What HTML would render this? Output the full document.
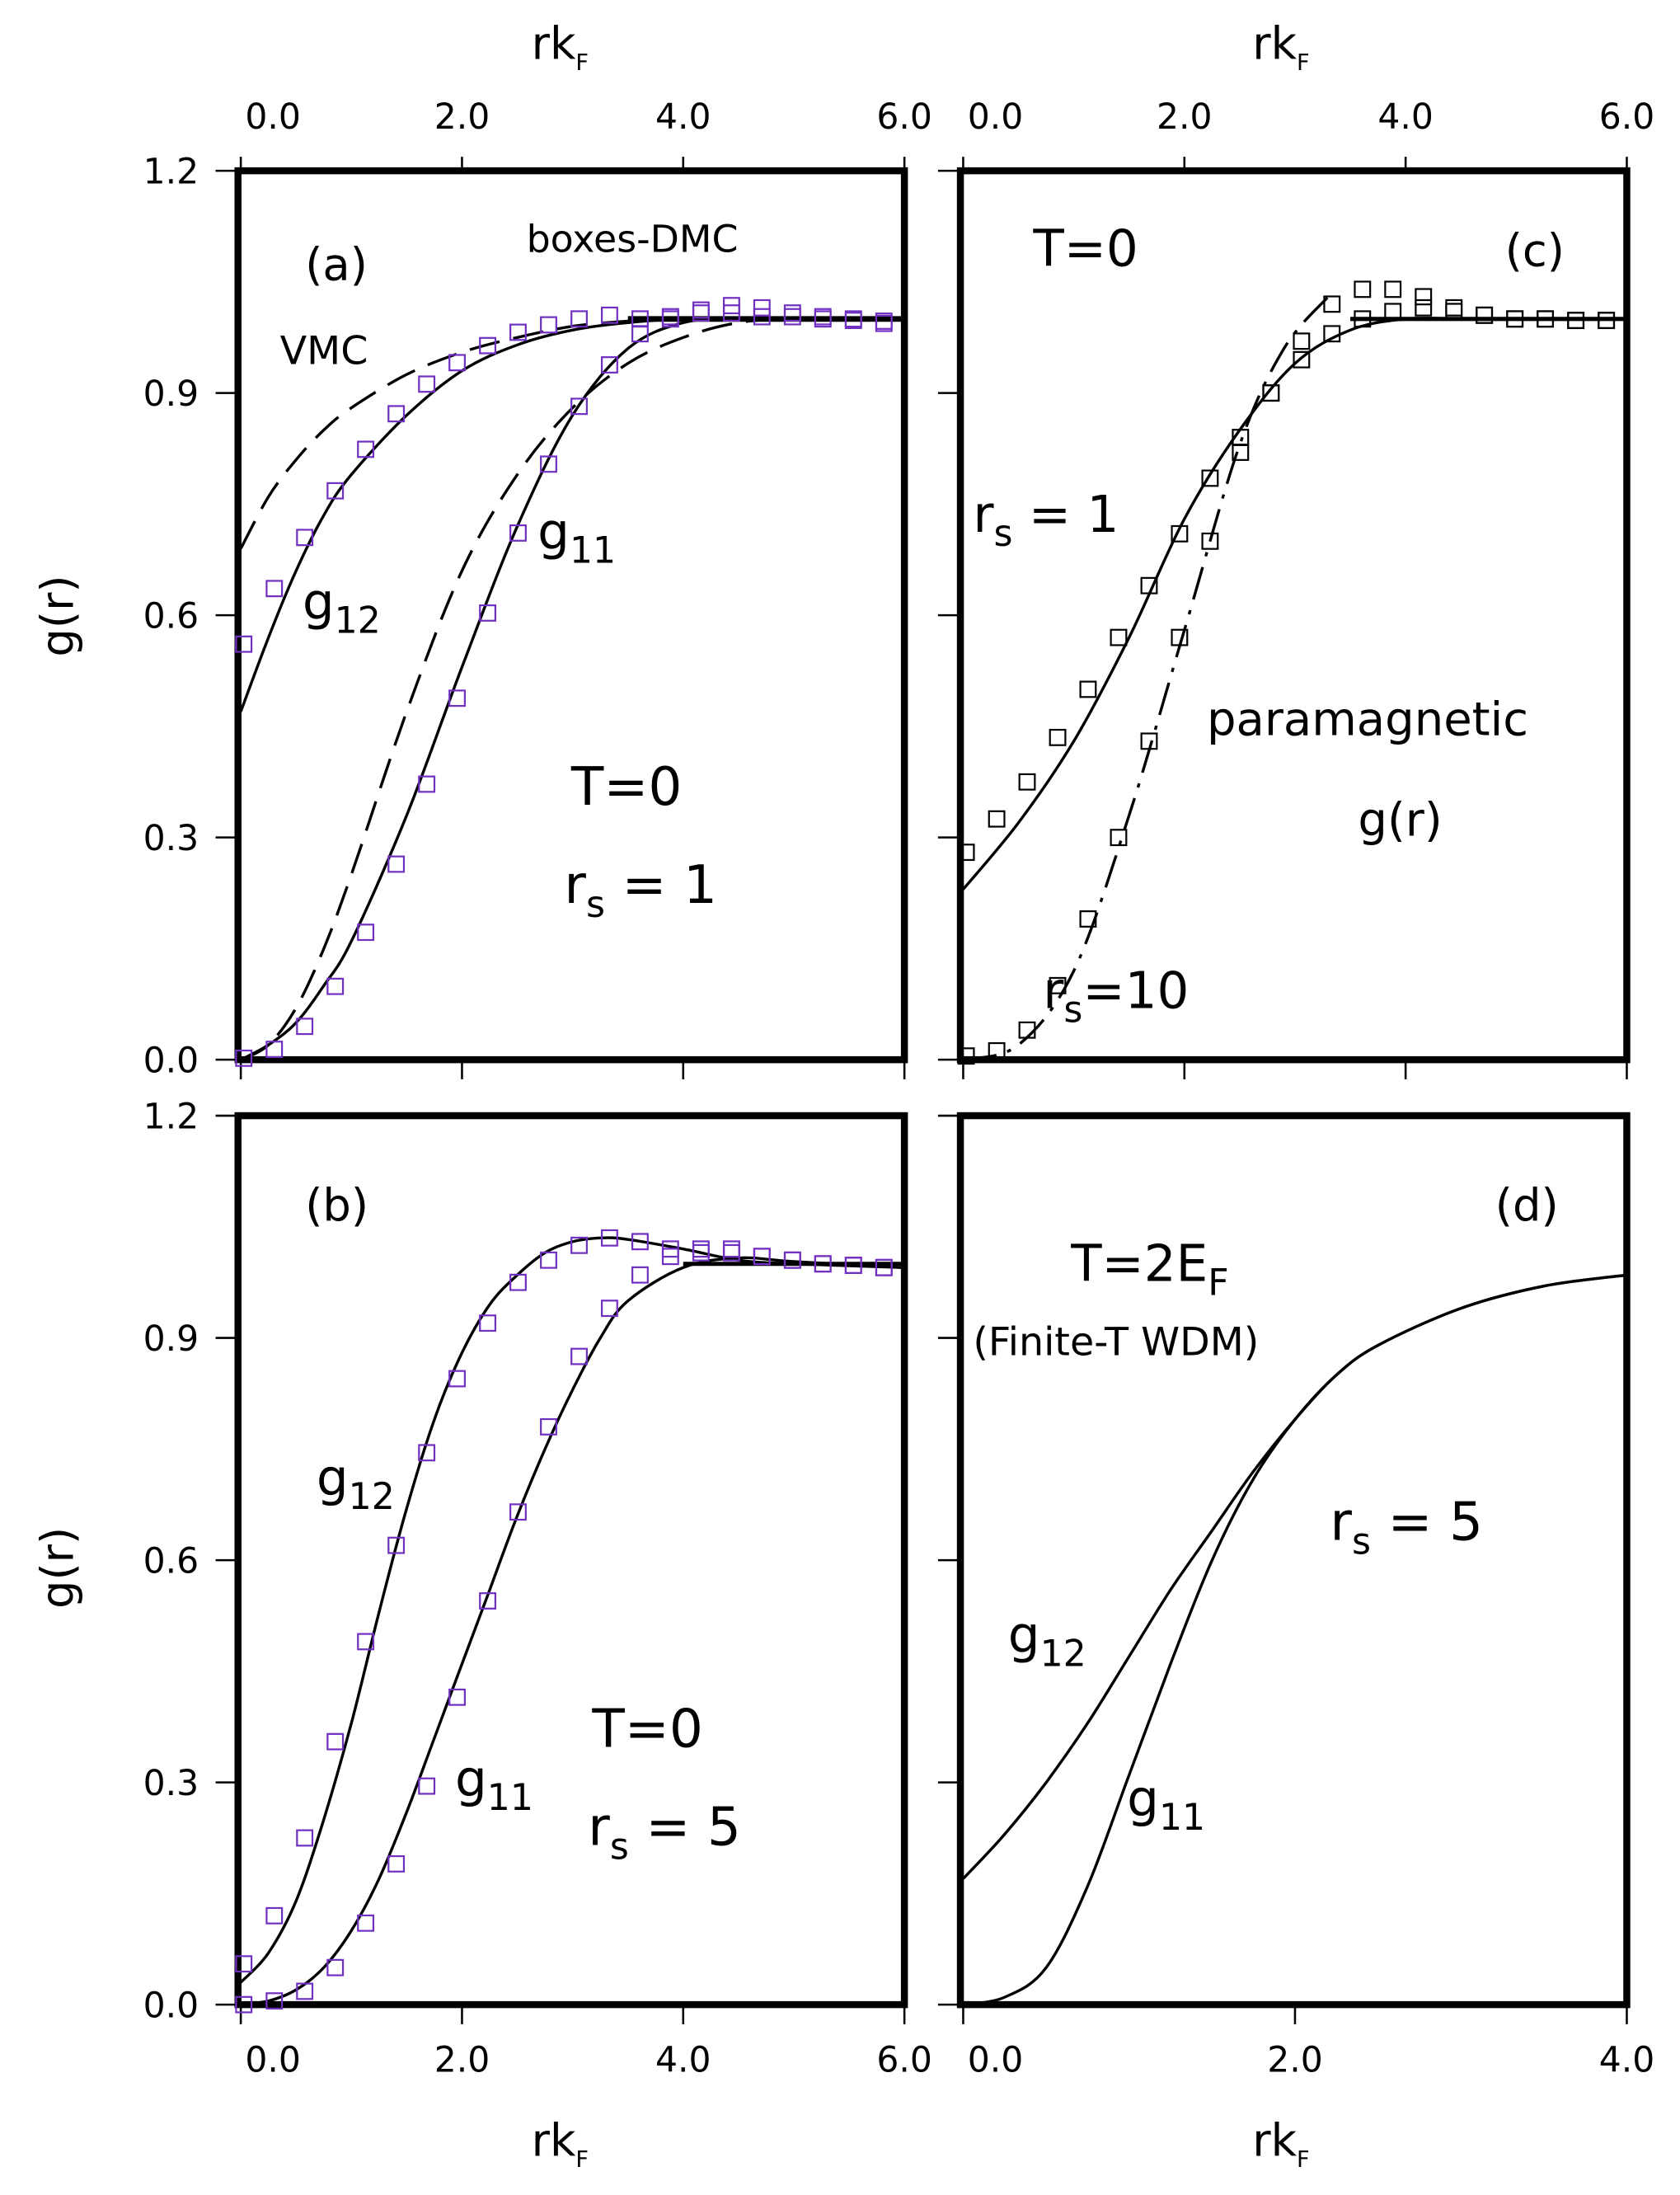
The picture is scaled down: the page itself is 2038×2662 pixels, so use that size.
<!DOCTYPE html>
<html><head><meta charset="utf-8"><style>
html,body{margin:0;padding:0;background:#fff;}
svg{display:block;}
text{font-family:"DejaVu Sans","Liberation Sans",sans-serif;fill:#000;}
</style></head><body>
<svg id="chart" width="2038" height="2662" viewBox="0 0 1200 1568" preserveAspectRatio="none" xmlns="http://www.w3.org/2000/svg"></svg>
<script>
// ---- data ----
const sqX = [0.027,0.303,0.578,0.854,1.129,1.405,1.681,1.956,2.232,2.507,2.783,3.059,3.334,3.610,3.885,4.161,4.437,4.712,4.988,5.263,5.539,5.815];
const aSqG12 = [0.561,0.636,0.705,0.768,0.824,0.872,0.912,0.941,0.964,0.982,0.992,1.0,1.005,1.0,1.0,1.012,1.018,1.015,1.008,1.003,1.0,0.997];
const aSqG11 = [0.002,0.014,0.045,0.099,0.172,0.264,0.372,0.488,0.603,0.711,0.804,0.882,0.938,0.98,1.003,1.008,1.008,1.003,1.003,1.0,0.998,0.994];
const aLineX = [0,0.25,0.5,0.75,1,1.5,2,2.5,3,3.5,4,4.5,5,6];
const aDmcG12 = [0.47,0.57,0.66,0.735,0.79,0.87,0.93,0.965,0.985,0.995,1.0,1.0,1.0,1.0];
const aDmcG11 = [0,0.02,0.05,0.1,0.16,0.33,0.53,0.72,0.87,0.96,0.995,1.0,1.0,1.0];
const aVmcG12 = [0.69,0.76,0.81,0.85,0.88,0.925,0.955,0.975,0.99,0.997,1.0,1.0,1.0,1.0];
const aVmcG11 = [0,0.02,0.07,0.15,0.25,0.47,0.66,0.79,0.88,0.94,0.975,0.995,1.0,1.0];
const bSqG12 = [0.055,0.12,0.225,0.355,0.49,0.62,0.745,0.845,0.92,0.975,1.005,1.025,1.035,1.03,1.02,1.02,1.015,1.01,1.005,1.0,0.998,0.995];
const bSqG11 = [0.0,0.005,0.018,0.05,0.11,0.19,0.295,0.415,0.545,0.665,0.78,0.875,0.94,0.985,1.01,1.015,1.02,1.01,1.005,1.0,0.998,0.995];
const bLineX = [0,0.25,0.5,0.75,1,1.25,1.5,1.75,2,2.25,2.5,2.75,3,3.25,3.5,4,4.5,5,6];
const bG12 = [0.03,0.07,0.14,0.25,0.38,0.53,0.67,0.79,0.88,0.945,0.985,1.015,1.03,1.035,1.033,1.02,1.005,1.0,0.995];
const bG11 = [0,0.005,0.02,0.05,0.1,0.17,0.26,0.36,0.46,0.56,0.66,0.75,0.83,0.90,0.95,0.995,1.008,1.003,0.995];
const cSqRs1 = [0.28,0.325,0.375,0.435,0.5,0.57,0.64,0.71,0.785,0.84,0.9,0.945,0.98,1.0,1.01,1.015,1.01,1.005,1.0,1.0,0.998,0.998];
const cSqRs10 = [0.005,0.012,0.04,0.1,0.19,0.3,0.43,0.57,0.7,0.82,0.9,0.97,1.02,1.04,1.04,1.03,1.015,1.005,1.0,1.0,0.998,0.998];
const cLineX = [0,0.5,1,1.5,2,2.5,3,3.5,4,4.5,5,6];
const cRs1 = [0.23,0.32,0.43,0.57,0.73,0.85,0.94,0.985,1.0,1.0,1.0,1.0];
const cRs10X = [0,0.5,1,1.5,2,2.5,2.9,3.3];
const cRs10 = [0,0.02,0.12,0.33,0.58,0.83,0.96,1.03];
const dLineX = [0,0.25,0.5,0.75,1,1.25,1.5,1.75,2,2.25,2.5,3,3.5,4];
const dG12 = [0.17,0.23,0.30,0.38,0.47,0.56,0.64,0.72,0.79,0.85,0.89,0.94,0.97,0.985];
const dG11 = [0,0.01,0.05,0.16,0.31,0.46,0.60,0.71,0.79,0.85,0.89,0.94,0.97,0.985];
const yTicks = [0,0.3,0.6,0.9,1.2];
const yTickLabels = ["0.0","0.3","0.6","0.9","1.2"];
const x6Ticks = [0,2,4,6];
const x6Labels = ["0.0","2.0","4.0","6.0"];
const x4Ticks = [0,2,4];
const x4Labels = ["0.0","2.0","4.0"];

// ---- drawing ----
const NS="http://www.w3.org/2000/svg";
const svg=document.getElementById('chart');
function mk(tag,attrs,parent){const e=document.createElementNS(NS,tag);for(const k in attrs)e.setAttribute(k,attrs[k]);(parent||svg).appendChild(e);return e;}
function panel(x0,x1,y0,y1,xmax){
  return {sx:v=>x0+(x1-x0)*v/xmax, sy:v=>y0-(y0-y1)*v/1.2, left:x0-2,right:x1,top:y1,bottom:y0};
}
function smooth(P){
  let d="M"+P[0][0]+","+P[0][1];
  for(let i=0;i<P.length-1;i++){
    const p0=P[i-1]||P[i],p1=P[i],p2=P[i+1],p3=P[i+2]||P[i+1];
    const c1=[p1[0]+(p2[0]-p0[0])/6,p1[1]+(p2[1]-p0[1])/6];
    const c2=[p2[0]-(p3[0]-p1[0])/6,p2[1]-(p3[1]-p1[1])/6];
    d+=" C"+c1[0].toFixed(1)+","+c1[1].toFixed(1)+" "+c2[0].toFixed(1)+","+c2[1].toFixed(1)+" "+p2[0].toFixed(1)+","+p2[1].toFixed(1);
  }
  return d;
}
function curve(p,xs,ys,name,dash,w){
  const P=xs.map((x,i)=>[p.sx(x),p.sy(ys[i])]);
  const e=mk('path',{d:smooth(P),fill:'none',stroke:'#000','stroke-width':w||2});
  if(dash)e.setAttribute('stroke-dasharray',dash);
  
  
}
function squares(p,xs,ys,name,color){
  const g=mk('g',{});
  
  
  xs.forEach((x,i)=>{
    const r=mk('rect',{x:p.sx(x)-5.5,y:p.sy(ys[i])-5.5,width:11,height:11,fill:'none',stroke:color,'stroke-width':1.3},g);
    
    
  });
}
function txt(x,y,s,size,name,anchor){
  const t=mk('text',{x:x,y:y,'font-size':size,'text-anchor':anchor||'start'});
  t.innerHTML=s;
  
  
  return t;
}
function frame(p,name,opts){
  const g=mk('g',{});
  
  
  mk('rect',{x:p.left,y:p.top,width:p.right-p.left,height:p.bottom-p.top,fill:'none',stroke:'#000','stroke-width':5},g);
  yTicks.forEach((v,i)=>{
    mk('line',{x1:p.left-16,x2:p.left,y1:p.sy(v),y2:p.sy(v),stroke:'#000','stroke-width':1.5},g);
    if(opts.ylabels) txt(p.left-28,p.sy(v)+9,yTickLabels[i],25,'y-tick-label','end');
  });
  const tk=opts.xmax===6?x6Ticks:x4Ticks, tl=opts.xmax===6?x6Labels:x4Labels;
  tk.forEach((v,i)=>{
    const off=i===0?23:0;
    if(opts.topTicks){
      mk('line',{x1:p.sx(v),x2:p.sx(v),y1:p.top-10,y2:p.top,stroke:'#000','stroke-width':1.5},g);
      txt(p.sx(v)+off,p.top-30,tl[i],25,'top-x-tick-label','middle');
    }
    mk('line',{x1:p.sx(v),x2:p.sx(v),y1:p.bottom,y2:p.bottom+14,stroke:'#000','stroke-width':1.5},g);
    if(opts.botLabels) txt(p.sx(v)+off,p.bottom+48,tl[i],25,'x-tick-label','middle');
  });
}
const SUB=(s)=>'<tspan dy="10" font-size="26">'+s+'</tspan>';

// panel a
const pa=panel(172,646,757,122,6);
frame(pa,'panel-a',{xmax:6,ylabels:true,topTicks:true});
mk('line',{x1:pa.sx(3.5),x2:pa.sx(6),y1:pa.sy(1),y2:pa.sy(1),stroke:'#000','stroke-width':4});
curve(pa,aLineX,aVmcG12,'vmc-g12-line','22,10');
curve(pa,aLineX,aVmcG11,'vmc-g11-line','22,10');
curve(pa,aLineX,aDmcG12,'dmc-g12-line');
curve(pa,aLineX,aDmcG11,'dmc-g11-line');
squares(pa,sqX,aSqG12,'a-g12-squares','#7030c0');
squares(pa,sqX,aSqG11,'a-g11-squares','#7030c0');
txt(218,200,'(a)',32,'panel-a-label');
txt(376,180,'boxes-DMC',27,'boxes-dmc-label');
txt(200,260,'VMC',28,'vmc-label');
txt(216,442,'g'+SUB('12'),36,'g12-label');
txt(384,392,'g'+SUB('11'),36,'g11-label');
txt(408,575,'T=0',38,'t0-label');
txt(403,645,'r'+SUB('s')+'<tspan dy="-10"> = 1</tspan>',38,'rs-label');
txt(400,42,'rk'+'<tspan dy="8" font-size="16">F</tspan>',32,'top-x-axis-title','middle');

// panel c
const pc=panel(688,1162,757,122,6);
frame(pc,'panel-c',{xmax:6,ylabels:false,topTicks:true});
mk('line',{x1:pc.sx(3.5),x2:pc.sx(6),y1:pc.sy(1),y2:pc.sy(1),stroke:'#000','stroke-width':3});
curve(pc,cLineX,cRs1,'rs1-line');
curve(pc,cRs10X,cRs10,'rs10-line','24,8,3,8');
squares(pc,sqX,cSqRs1,'rs1-squares','#000');
squares(pc,sqX,cSqRs10,'rs10-squares','#000');
txt(738,190,'T=0',36,'c-t0-label');
txt(1075,190,'(c)',32,'panel-c-label');
txt(695,380,'r'+SUB('s')+'<tspan dy="-10"> = 1</tspan>',36,'c-rs1-label');
txt(862,525,'paramagnetic',33,'paramagnetic-label');
txt(970,597,'g(r)',33,'c-gr-label');
txt(745,720,'r'+SUB('s')+'<tspan dy="-10">=10</tspan>',36,'c-rs10-label');
txt(915,42,'rk'+'<tspan dy="8" font-size="16">F</tspan>',32,'top-x-axis-title-c','middle');

// panel b
const pb=panel(172,646,1432,797,6);
frame(pb,'panel-b',{xmax:6,ylabels:true,botLabels:true});
mk('line',{x1:pb.sx(4),x2:pb.sx(6),y1:pb.sy(1),y2:pb.sy(1),stroke:'#000','stroke-width':3});
curve(pb,bLineX,bG12,'b-g12-line');
curve(pb,bLineX,bG11,'b-g11-line');
squares(pb,sqX,bSqG12,'b-g12-squares','#7030c0');
squares(pb,sqX,bSqG11,'b-g11-squares','#7030c0');
txt(218,872,'(b)',32,'panel-b-label');
txt(226,1068,'g'+SUB('12'),36,'b-g12-label');
txt(325,1283,'g'+SUB('11'),36,'b-g11-label');
txt(423,1248,'T=0',38,'b-t0-label');
txt(420,1318,'r'+SUB('s')+'<tspan dy="-10"> = 5</tspan>',38,'b-rs-label');
txt(400,1540,'rk'+'<tspan dy="8" font-size="16">F</tspan>',32,'x-axis-title-b','middle');

// panel d
const pd=panel(688,1162,1432,797,4);
frame(pd,'panel-d',{xmax:4,ylabels:false,botLabels:true});
curve(pd,dLineX,dG12,'d-g12-line');
curve(pd,dLineX,dG11,'d-g11-line');
txt(1068,872,'(d)',32,'panel-d-label');
txt(765,915,'T=2E'+'<tspan dy="10" font-size="26">F</tspan>',36,'t2ef-label');
txt(695,968,'(Finite-T WDM)',28,'finite-t-wdm-label');
txt(950,1100,'r'+SUB('s')+'<tspan dy="-10"> = 5</tspan>',38,'d-rs-label');
txt(720,1180,'g'+SUB('12'),36,'d-g12-label');
txt(805,1297,'g'+SUB('11'),36,'d-g11-label');
txt(915,1540,'rk'+'<tspan dy="8" font-size="16">F</tspan>',32,'x-axis-title-d','middle');

// y-axis titles
const y1=txt(0,0,'g(r)',32,'y-axis-title-top','middle'); y1.setAttribute('transform','translate(52,440) rotate(-90)');
const y2=txt(0,0,'g(r)',32,'y-axis-title-bottom','middle'); y2.setAttribute('transform','translate(52,1120) rotate(-90)');
</script>
</body></html>
